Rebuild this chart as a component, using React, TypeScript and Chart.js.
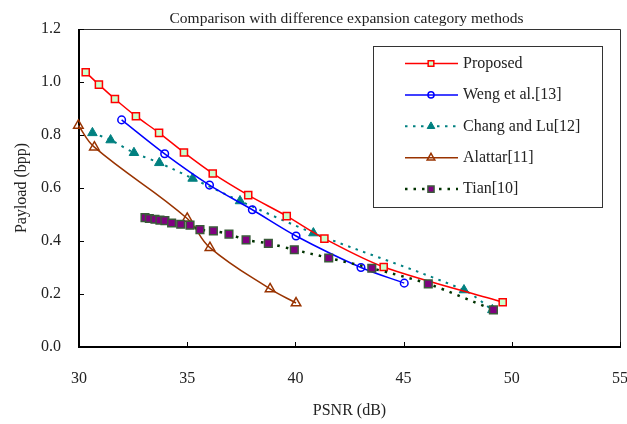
import React, { useEffect, useRef } from 'react';
import { Chart, registerables } from 'chart.js';
import { drawPoint } from 'chart.js/helpers';
Chart.register(...registerables);

const FONT = "'Liberation Serif', 'Times New Roman', serif";

const chartTitle = 'Comparison with difference expansion category methods';
const xTitle = 'PSNR (dB)';
const yTitle = 'Payload (bpp)';

const xTickValues = [30, 35, 40, 45, 50, 55];
const yTickValues = [0, 0.2, 0.4, 0.6, 0.8, 1.0, 1.2];

const seriesNames = ['Proposed', 'Weng et al.[13]', 'Chang and Lu[12]', 'Alattar[11]', 'Tian[10]'];

const proposedPsnr = [30.31, 30.92, 31.66, 32.63, 33.7, 34.85, 36.18, 37.82, 39.6, 41.34, 44.08, 49.58];
const proposedPayload = [1.037, 0.99, 0.936, 0.871, 0.808, 0.734, 0.655, 0.573, 0.494, 0.409, 0.302, 0.169];

const wengPsnr = [31.97, 33.96, 36.03, 38.01, 40.03, 43.03, 45.03];
const wengPayload = [0.857, 0.729, 0.611, 0.518, 0.419, 0.3, 0.241];

const changPsnr = [30.62, 31.46, 32.54, 33.71, 35.25, 37.44, 40.83, 47.79, 49.1];
const changPayload = [0.808, 0.781, 0.733, 0.695, 0.636, 0.551, 0.43, 0.215, 0.14];

const alattarPsnr = [29.97, 30.71, 35.0, 36.05, 38.83, 40.03];
const alattarPayload = [0.836, 0.754, 0.485, 0.375, 0.219, 0.166];

const tianPsnr = [33.05, 33.25, 33.51, 33.74, 33.97, 34.28, 34.7, 35.13, 35.59, 36.21, 36.93, 37.72, 38.75, 39.95, 41.54, 43.53, 46.14, 49.15];
const tianPayload = [0.488, 0.485, 0.482, 0.479, 0.477, 0.468, 0.463, 0.46, 0.443, 0.438, 0.426, 0.404, 0.391, 0.367, 0.336, 0.297, 0.238, 0.14];

const pts = (xs: number[], ys: number[]) => xs.map((x, i) => ({ x, y: ys[i] }));

const decorPlugin = {
  id: 'decor',
  beforeDatasetsDraw(chart: any) {
    const { ctx, chartArea } = chart;
    const { left, right, top, bottom } = chartArea;
    const xs = chart.scales.x;
    const ys = chart.scales.y;
    ctx.save();
    ctx.strokeStyle = '#333';
    ctx.lineWidth = 1;
    ctx.beginPath();
    ctx.moveTo(left, top + 0.5);
    ctx.lineTo(right + 0.5, top + 0.5);
    ctx.lineTo(right + 0.5, bottom);
    ctx.stroke();
    ctx.strokeStyle = '#000';
    ctx.lineWidth = 1;
    ctx.beginPath();
    xTickValues.forEach((v) => {
      const px = Math.round(xs.getPixelForValue(v)) + 0.5;
      ctx.moveTo(px, bottom);
      ctx.lineTo(px, bottom - 5);
    });
    yTickValues.forEach((v) => {
      const py = Math.round(ys.getPixelForValue(v)) + 0.5;
      ctx.moveTo(left, py);
      ctx.lineTo(left + 5, py);
    });
    ctx.stroke();
    ctx.lineWidth = 2;
    ctx.beginPath();
    ctx.moveTo(left, top);
    ctx.lineTo(left, bottom);
    ctx.lineTo(right + 1, bottom);
    ctx.stroke();
    ctx.fillStyle = '#222';
    ctx.font = `15.5px ${FONT}`;
    ctx.textAlign = 'center';
    ctx.textBaseline = 'middle';
    ctx.fillText(chartTitle, (left + right) / 2 - 3, 19);
    ctx.restore();
  },
  afterDraw(chart: any) {
    const { ctx } = chart;
    const bx = 373, by = 46, bw = 229, bh = 161;
    ctx.save();
    ctx.fillStyle = '#fff';
    ctx.fillRect(bx, by, bw, bh);
    ctx.strokeStyle = '#333';
    ctx.lineWidth = 1;
    ctx.strokeRect(bx + 0.5, by + 0.5, bw, bh);
    chart.data.datasets.forEach((ds: any, i: number) => {
      const y = 63.5 + i * 31.4;
      ctx.save();
      ctx.strokeStyle = ds.borderColor;
      ctx.lineWidth = ds.borderWidth;
      ctx.setLineDash(ds.borderDash || []);
      ctx.beginPath();
      ctx.moveTo(405, y);
      ctx.lineTo(458, y);
      ctx.stroke();
      ctx.setLineDash([]);
      ctx.fillStyle = ds.pointBackgroundColor;
      ctx.strokeStyle = ds.pointBorderColor;
      ctx.lineWidth = ds.pointBorderWidth;
      drawPoint(ctx, { pointStyle: ds.pointStyle, radius: ds.pointRadius * 0.8, rotation: 0, borderWidth: ds.pointBorderWidth }, 431, y);
      ctx.restore();
      ctx.fillStyle = '#222';
      ctx.font = `16px ${FONT}`;
      ctx.textAlign = 'left';
      ctx.textBaseline = 'middle';
      ctx.fillText(ds.label, 463, y);
    });
    ctx.restore();
  },
};

export default function App() {
  const ref = useRef<HTMLCanvasElement>(null);
  useEffect(() => {
    document.body.style.margin = '0';
    const chart = new Chart(ref.current!, {
      type: 'line',
      data: {
        datasets: [
          {
            label: seriesNames[0],
            data: pts(proposedPsnr, proposedPayload),
            borderColor: '#ff0000',
            borderWidth: 1.5,
            pointStyle: 'rect',
            pointRadius: 5,
            pointBackgroundColor: '#ccffcc',
            pointBorderColor: '#ff0000',
            pointBorderWidth: 1.5,
            tension: 0.3,
          },
          {
            label: seriesNames[1],
            data: pts(wengPsnr, wengPayload),
            borderColor: '#0000ff',
            borderWidth: 1.5,
            pointStyle: 'circle',
            pointRadius: 3.8,
            pointBackgroundColor: 'rgba(255,255,255,0)',
            pointBorderColor: '#0000ff',
            pointBorderWidth: 1.5,
            tension: 0.3,
          },
          {
            label: seriesNames[2],
            data: pts(changPsnr, changPayload),
            borderColor: '#008080',
            borderWidth: 2,
            borderDash: [2.5, 5.5],
            pointStyle: 'triangle',
            pointRadius: 5.5,
            pointBackgroundColor: '#008080',
            pointBorderColor: '#008080',
            pointBorderWidth: 1,
            tension: 0.3,
          },
          {
            label: seriesNames[3],
            data: pts(alattarPsnr, alattarPayload),
            borderColor: '#993300',
            borderWidth: 1.5,
            pointStyle: 'triangle',
            pointRadius: 5.5,
            pointBackgroundColor: 'rgba(255,255,255,0)',
            pointBorderColor: '#993300',
            pointBorderWidth: 1.5,
            tension: 0.4,
          },
          {
            label: seriesNames[4],
            data: pts(tianPsnr, tianPayload),
            borderColor: '#003300',
            borderWidth: 2.5,
            borderDash: [2.5, 6],
            pointStyle: 'rect',
            pointRadius: 5.4,
            pointBackgroundColor: '#800080',
            pointBorderColor: '#3a5a3a',
            pointBorderWidth: 1.5,
            tension: 0.3,
            order: -1,
          },
        ] as any,
      },
      options: {
        responsive: false,
        animation: false,
        clip: false as any,
        layout: { padding: { top: 29, right: 6, left: 0, bottom: 0 } },
        plugins: {
          legend: { display: false },
          tooltip: { enabled: false },
          title: { display: false },
        },
        scales: {
          x: {
            type: 'linear',
            min: 30,
            max: 55,
            afterBuildTicks: (s: any) => {
              s.ticks = xTickValues.map((v) => ({ value: v }));
            },
            afterFit: (s: any) => {
              s.height = 77;
              s.paddingLeft = 0;
              s.paddingRight = 0;
            },
            grid: { display: false, drawTicks: false },
            border: { display: false },
            ticks: {
              autoSkip: false,
              maxRotation: 0,
              padding: 22,
              color: '#222',
              font: { family: FONT, size: 16 },
              callback: (v: any) => String(v),
            },
            title: {
              display: true,
              text: xTitle,
              color: '#222',
              font: { family: FONT, size: 16 },
              padding: { top: 0, bottom: 4 },
            },
          },
          y: {
            type: 'linear',
            min: 0,
            max: 1.2,
            afterBuildTicks: (s: any) => {
              s.ticks = yTickValues.map((v) => ({ value: v }));
            },
            afterFit: (s: any) => {
              s.width = 79;
              s.paddingTop = 0;
              s.paddingBottom = 0;
            },
            grid: { display: false, drawTicks: false },
            border: { display: false },
            ticks: {
              autoSkip: false,
              padding: 18,
              color: '#222',
              font: { family: FONT, size: 16 },
              callback: (v: any) => Number(v).toFixed(1),
            },
            title: {
              display: true,
              text: yTitle,
              color: '#222',
              font: { family: FONT, size: 16 },
              padding: { top: 12, bottom: 0 },
            },
          },
        },
      },
      plugins: [decorPlugin as any],
    });
    return () => chart.destroy();
  }, []);
  return (
    <div style={{ position: 'absolute', left: 0, top: 0, width: 627, height: 424 }}>
      <canvas ref={ref} width={627} height={424} style={{ width: 627, height: 424, display: 'block' }} />
    </div>
  );
}
